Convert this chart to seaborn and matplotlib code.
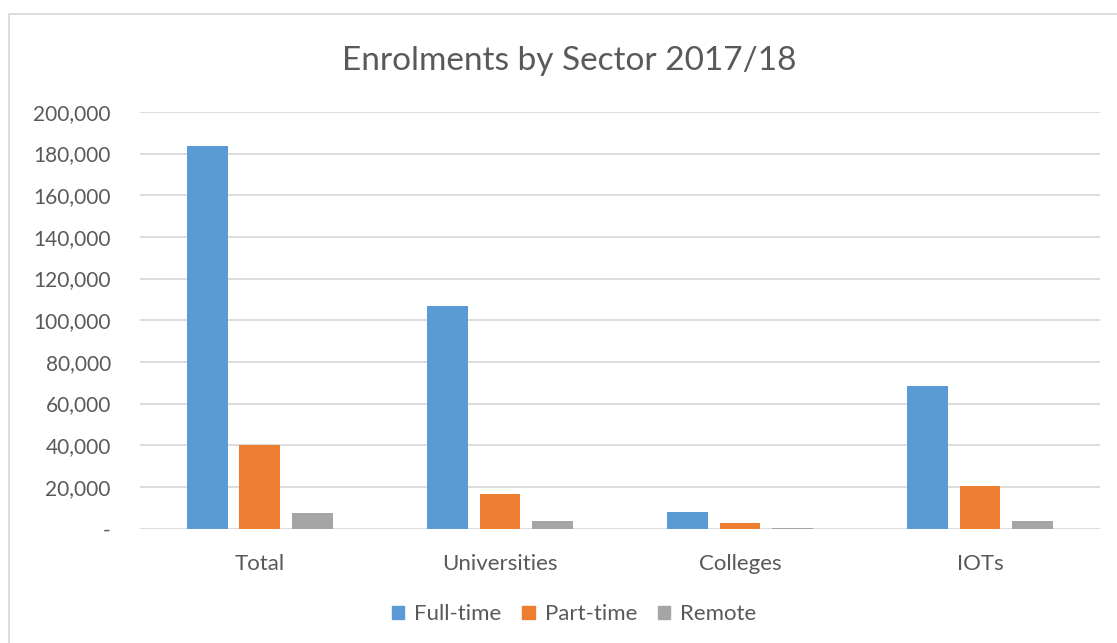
import matplotlib
matplotlib.use("Agg")
import matplotlib.pyplot as plt
import matplotlib.patches as mpatches
import seaborn as sns
import pandas as pd

# values
sectors = ["Total", "Universities", "Colleges", "IOTs"]
full_time = [183600, 107000, 7800, 68500]
part_time = [40000, 16600, 2600, 20400]
remote = [7700, 3750, 300, 3600]
modes = ["Full-time", "Part-time", "Remote"]
colors = ["#5B9BD5", "#ED7D31", "#A5A5A5"]
y_ticks = [0, 20000, 40000, 60000, 80000, 100000, 120000, 140000, 160000, 180000, 200000]

rows = []
for mode, vals in zip(modes, [full_time, part_time, remote]):
    for s, v in zip(sectors, vals):
        rows.append({"Sector": s, "Mode": mode, "Enrolments": v})
df = pd.DataFrame(rows)

sns.set_theme(style="white")
plt.rcParams['font.family'] = ['Lato', 'DejaVu Sans']
text_col = "#595959"

fig = plt.figure(figsize=(11.17, 6.43), dpi=100)
ax = fig.add_axes([0.1253, 0.178, 0.8595, 0.648])

sns.barplot(data=df, x="Sector", y="Enrolments", hue="Mode", order=sectors,
            hue_order=modes, palette=colors, saturation=1, linewidth=0,
            width=0.656, gap=0.22, ax=ax, legend=False)

ax.set_ylim(0, 200000)
ax.set_xlim(-0.5, 3.5)
ax.set_yticks(y_ticks)
ax.set_yticklabels(["-" if t == 0 else f"{t:,}" for t in y_ticks])
ax.yaxis.grid(True, color="#D9D9D9", linewidth=1.3)
ax.set_axisbelow(True)
for sp in ax.spines.values():
    sp.set_visible(False)
ax.tick_params(axis="y", length=0, pad=21, labelsize=15, labelcolor=text_col)
ax.tick_params(axis="x", length=0, pad=18, labelsize=16, labelcolor=text_col)
ax.set_xlabel("")
ax.set_ylabel("")

fig.text(0.5095, 0.905, "Enrolments by Sector 2017/18", ha="center", va="center",
         fontsize=24, color=text_col)

handles = [mpatches.Patch(color=c, label=m) for c, m in zip(colors, modes)]
fig.legend(handles=handles, loc="center", bbox_to_anchor=(0.514, 0.045), ncol=3,
           frameon=False, fontsize=16, labelcolor=text_col, handlelength=0.55,
           handleheight=0.55, handletextpad=0.45, columnspacing=0.95)

# chart frame
fig.patches.append(mpatches.Rectangle((9 / 1117, -0.1), 1.2, 1 - 14 / 643 + 0.1,
                                      transform=fig.transFigure, fill=False,
                                      edgecolor="#D9D9D9", linewidth=1.3))

fig.savefig("out.png", dpi=100, facecolor="white")
